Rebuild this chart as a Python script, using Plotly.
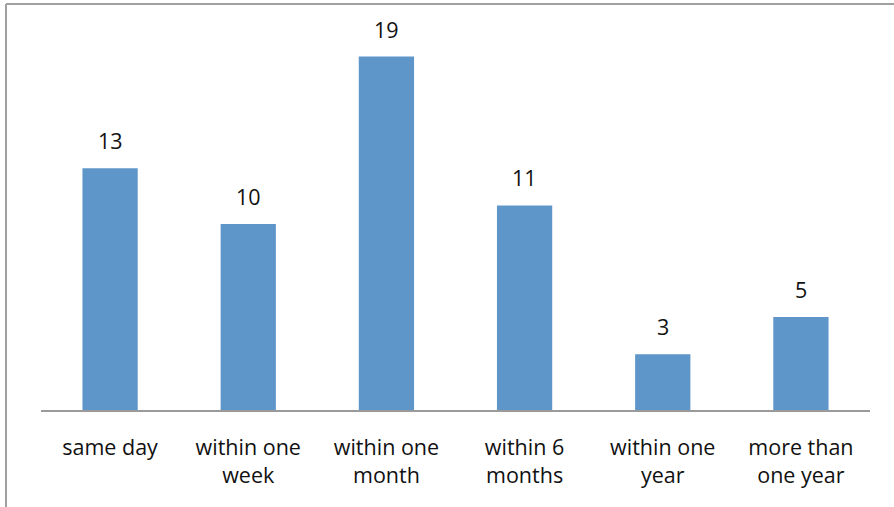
import plotly.graph_objects as go

categories = ["same day", "within one<br>week", "within one<br>month", "within 6<br>months", "within one<br>year", "more than<br>one year"]
values = [13, 10, 19, 11, 3, 5]

W, H = 894, 507
L, R, T, B = 41, 24, 38, 97
pw, ph = W - L - R, H - T - B

fig = go.Figure(go.Bar(
    x=categories, y=values, width=0.4,
    marker=dict(color="#5f96ca", line=dict(width=0)),
    hoverinfo="skip",
))

for c, v in zip(categories, values):
    fig.add_annotation(x=c, y=v, text=str(v), showarrow=False, yanchor="bottom",
                       yshift=11, font=dict(family="Open Sans", size=21.5, color="#111"))

# chart border (top and left edges visible)
bx = (6 - L) / pw
by = 1 + (T - 4) / ph
fig.add_shape(type="line", xref="paper", yref="paper", x0=bx, x1=1 + (R + 5) / pw, y0=by, y1=by,
              line=dict(color="#a0a0a0", width=2))
fig.add_shape(type="line", xref="paper", yref="paper", x0=bx, x1=bx, y0=by, y1=-(B + 5) / ph,
              line=dict(color="#a0a0a0", width=2))

fig.update_layout(
    width=W, height=H,
    margin=dict(l=L, r=R, t=T, b=B, pad=0),
    paper_bgcolor="white", plot_bgcolor="white",
    showlegend=False,
    font=dict(family="Open Sans", size=21.5, color="#111"),
    xaxis=dict(showline=True, linecolor="#9a9a9a", linewidth=1.5, ticks="",
               ticklabelstandoff=17, showgrid=False, zeroline=False,
               tickfont=dict(family="Open Sans", size=21.5, color="#111")),
    yaxis=dict(range=[0, 20], visible=False, showgrid=False, zeroline=False),
)

fig.write_html("out.html")
